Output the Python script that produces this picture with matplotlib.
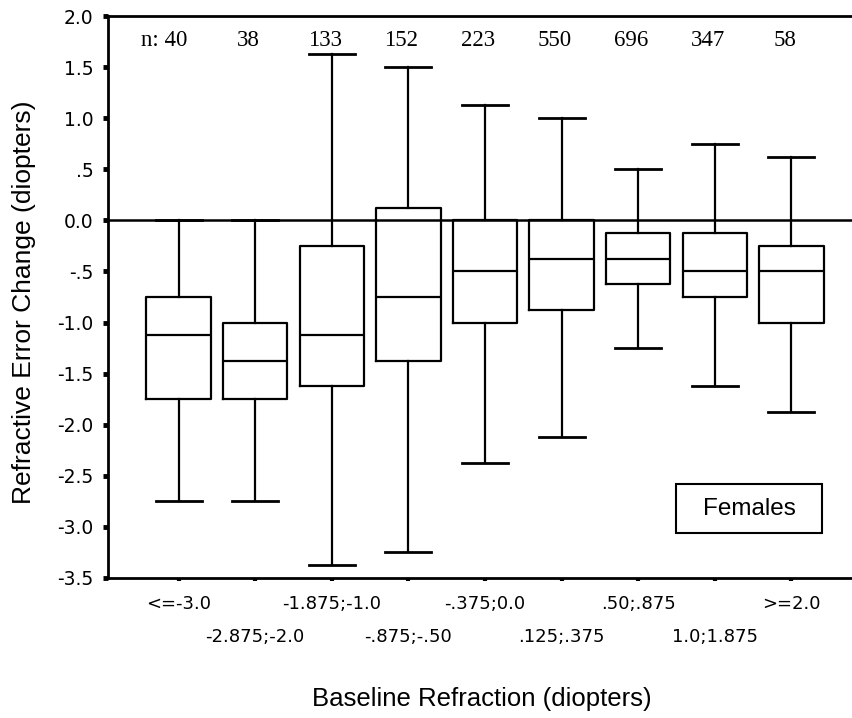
import matplotlib
matplotlib.use("Agg")
import matplotlib.pyplot as plt
from matplotlib.patches import Rectangle

# baseline refraction groups (diopters)
groups = ["<=-3.0", "-2.875;-2.0", "-1.875;-1.0", "-.875;-.50", "-.375;0.0",
          ".125;.375", ".50;.875", "1.0;1.875", ">=2.0"]
n_counts = [40, 38, 133, 152, 223, 550, 696, 347, 58]

# box stats
whisk_lo = [-2.75, -2.75, -3.375, -3.25, -2.375, -2.125, -1.25, -1.625, -1.875]
q1 = [-1.75, -1.75, -1.625, -1.375, -1.0, -0.875, -0.625, -0.75, -1.0]
med = [-1.125, -1.375, -1.125, -0.75, -0.5, -0.375, -0.375, -0.5, -0.5]
q3 = [-0.75, -1.0, -0.25, 0.125, 0.0, 0.0, -0.125, -0.125, -0.25]
whisk_hi = [0.0, 0.0, 1.625, 1.5, 1.125, 1.0, 0.5, 0.75, 0.625]

yticks = [2.0, 1.5, 1.0, 0.5, 0.0, -0.5, -1.0, -1.5, -2.0, -2.5, -3.0, -3.5]
ytick_labels = ["2.0", "1.5", "1.0", ".5", "0.0", "-.5", "-1.0", "-1.5",
                "-2.0", "-2.5", "-3.0", "-3.5"]

sans = "Liberation Sans"
tick_font = "DejaVu Sans"
serif = "Liberation Serif"

fig = plt.figure(figsize=(8.52, 7.18), dpi=100)
ax = fig.add_axes([0.1268, 0.195, 0.8732, 0.7827])

stats = []
for i in range(len(groups)):
    stats.append(dict(whislo=whisk_lo[i], q1=q1[i], med=med[i], q3=q3[i],
                      whishi=whisk_hi[i], fliers=[]))

pos = list(range(len(groups)))
lw = 1.6
ax.bxp(stats, positions=pos, widths=0.84, capwidths=0.6, showfliers=False,
       boxprops=dict(color="black", linewidth=lw),
       medianprops=dict(color="black", linewidth=lw),
       whiskerprops=dict(color="black", linewidth=lw),
       capprops=dict(color="black", linewidth=lw + 0.4))

ax.axhline(0, color="black", linewidth=1.8, zorder=0)

ax.set_xlim(-0.92, 8.79)
ax.set_ylim(-3.5, 2.0)

ax.set_yticks(yticks)
ax.set_yticklabels(ytick_labels, fontsize=13.5, family=tick_font)
ax.tick_params(axis="y", direction="out", length=3.5, width=3.5, pad=7)

ax.set_xticks(pos)
ax.set_xticklabels([""] * len(pos))
ax.tick_params(axis="x", direction="out", length=2.5, width=3)
for i, g in enumerate(groups):
    yoff = -0.25 if i % 2 == 0 else -0.58
    ax.text(i, -3.5 + yoff, g, ha="center", va="center", fontsize=13,
            family=tick_font, clip_on=False)

for sp in ["left", "bottom", "top"]:
    ax.spines[sp].set_linewidth(2)
ax.spines["right"].set_visible(False)

# sample sizes
for i, n in enumerate(n_counts):
    if i == 0:
        ax.text(0.11, 1.76, "n: %d" % n, ha="right", va="center",
                fontsize=16.5, family=serif)
    else:
        ax.text(i - 0.09, 1.76, str(n), ha="center", va="center",
                fontsize=16.5, family=serif)

ax.set_ylabel("Refractive Error Change (diopters)", fontsize=19, family=sans)
ax.yaxis.set_label_coords(-0.097, 0.491)
fig.text(0.565, 0.026, "Baseline Refraction (diopters)", ha="center",
         va="center", fontsize=18.5, family=sans)

# "Females" label box
ax.add_patch(Rectangle((6.495, -3.059), 1.905, 0.481, facecolor="white",
                       edgecolor="black", linewidth=1.5, zorder=3))
ax.text(7.45, -2.82, "Females", ha="center", va="center", fontsize=17.5,
        family=sans, zorder=4)

fig.savefig("out.png", dpi=100)
